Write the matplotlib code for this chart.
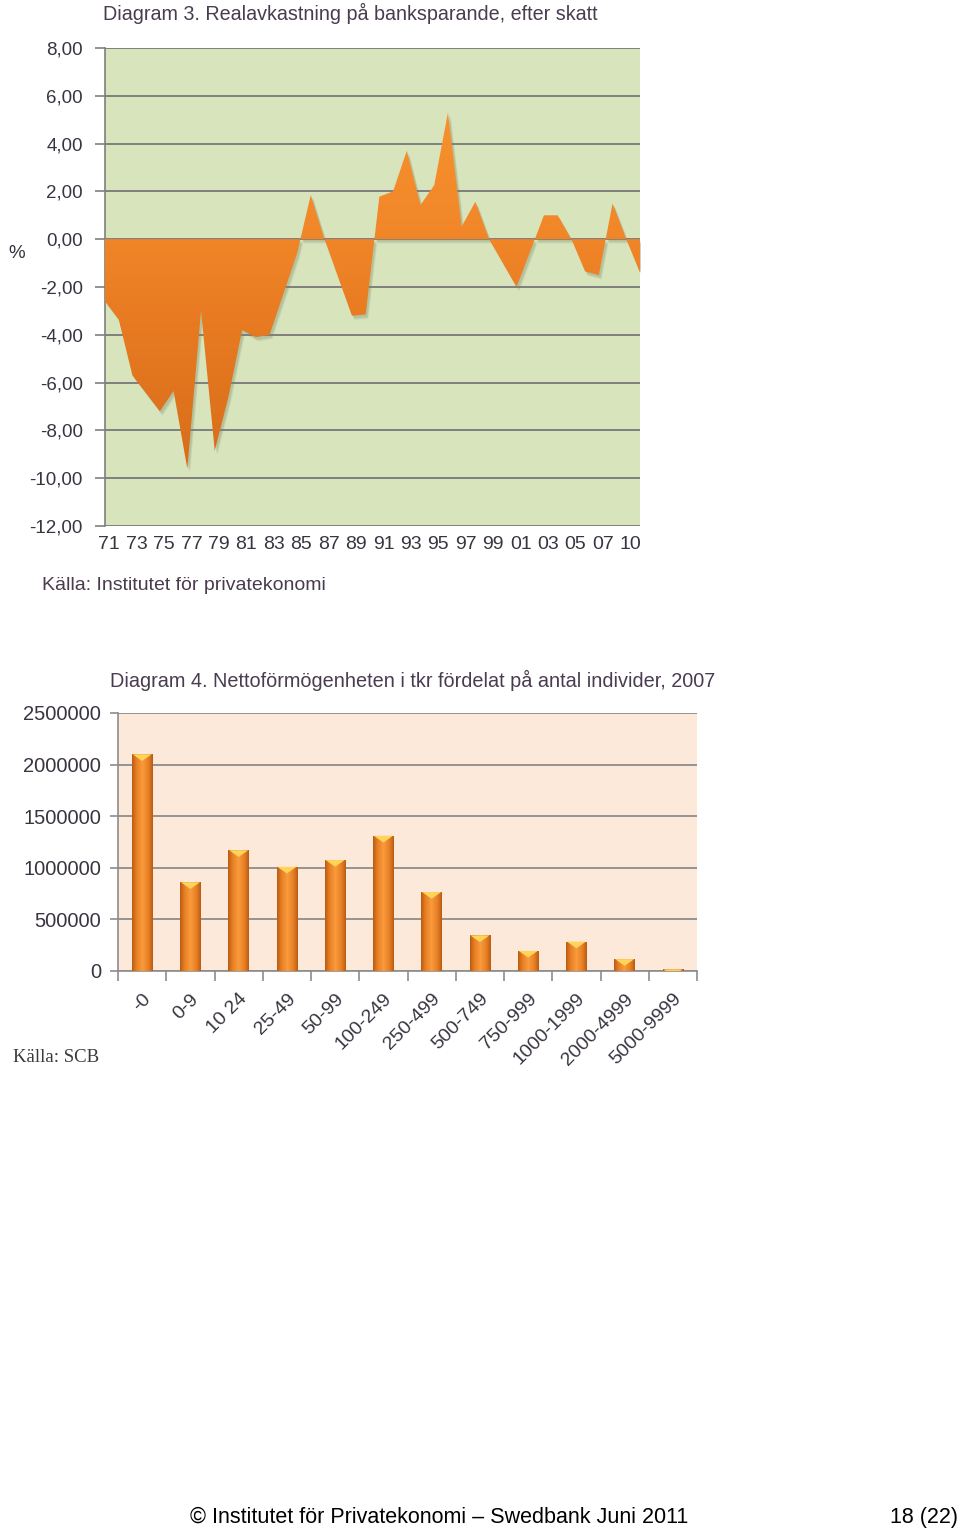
import numpy as np
import matplotlib
matplotlib.use("Agg")
import matplotlib.pyplot as plt
from matplotlib.colors import LinearSegmentedColormap
from matplotlib.path import Path
from matplotlib import transforms

# ---------------- data ----------------
years = list(range(1971, 2011))
real_return = [-2.6, -3.36, -5.7, -6.45, -7.2, -6.35, -9.6, -3.0, -8.85, -6.6,
               -3.8, -4.1, -4.0, -2.3, -0.6, 1.85, 0.0, -1.6, -3.2, -3.15,
               1.78, 2.0, 3.7, 1.43, 2.26, 5.3, 0.53, 1.57, 0.0, -1.0,
               -2.0, -0.5, 1.0, 1.0, 0.0, -1.35, -1.5, 1.5, 0.0, -1.4]
year_labels = ["71", "73", "75", "77", "79", "81", "83", "85", "87", "89",
               "91", "93", "95", "97", "99", "01", "03", "05", "07", "10"]
y1_ticks = [8, 6, 4, 2, 0, -2, -4, -6, -8, -10, -12]

wealth_classes = ["-0", "0-9", "10 24", "25-49", "50-99", "100-249", "250-499",
                  "500-749", "750-999", "1000-1999", "2000-4999", "5000-9999"]
individuals = [2100000, 860000, 1170000, 1010000, 1075000, 1310000, 765000,
               345000, 195000, 285000, 115000, 15000]
y2_ticks = [0, 500000, 1000000, 1500000, 2000000, 2500000]

# ---------------- figure ----------------
W, H = 960, 1532
fig = plt.figure(figsize=(W / 100, H / 100), dpi=100)
fig.patch.set_facecolor("white")

SANS = ["Liberation Sans", "DejaVu Sans"]
TXT = "#3a3440"

def fx(px):
    return px / W

def fy(py):
    return 1 - py / H

# ---------------- chart 1 ----------------
ax1 = fig.add_axes([fx(105), fy(526), fx(640) - fx(105), fy(48) - fy(526)])
ax1.set_facecolor("#d8e4bc")
x = np.arange(len(years))
vals = np.array(real_return)

# soft shadow
for k, a in [(4, 0.10), (3, 0.14), (2, 0.18)]:
    shadow_tr = transforms.offset_copy(ax1.transData, fig=fig, x=k * 0.6, y=-k, units="dots")
    ax1.fill_between(x, vals, 0, color="#7d8a6a", alpha=a, linewidth=0,
                     zorder=2, transform=shadow_tr)

poly = ax1.fill_between(x, vals, 0, color="none", linewidth=0, zorder=3)
cmap1 = LinearSegmentedColormap.from_list(
    "or1", [(0.0, "#d26818"), (0.45, "#e97c22"), (0.62, "#f18729"), (1.0, "#f99631")])
grad = np.linspace(0, 1, 256).reshape(-1, 1)
im = ax1.imshow(grad, extent=[x[0], x[-1], -12, 8], origin="lower", aspect="auto",
                cmap=cmap1, zorder=3, interpolation="bicubic")
im.set_clip_path(poly.get_paths()[0], transform=ax1.transData)

ax1.set_xlim(x[0], x[-1])
ax1.set_ylim(-12, 8)
ax1.set_yticks(y1_ticks)
ax1.set_yticklabels([f"{v:.2f}".replace(".", ",") for v in y1_ticks],
                    fontsize=13.5, color=TXT, family=SANS)
ax1.yaxis.grid(True, color="#7f7f7f", linewidth=1.4, zorder=1)
ax1.set_axisbelow(True)
ax1.set_xticks(x[::2] + 0.3)
ax1.set_xticklabels(year_labels, fontsize=14, color=TXT, family=SANS)
ax1.tick_params(axis="x", length=0, pad=7)
ax1.tick_params(axis="y", length=7, width=1.2, color="#7f7f7f", pad=9, direction="out")
for s in ["top", "right", "bottom"]:
    ax1.spines[s].set_visible(False)
ax1.spines["left"].set_color("#7f7f7f")
ax1.spines["left"].set_linewidth(1.2)

fig.text(fx(103), fy(13), "Diagram 3. Realavkastning på banksparande, efter skatt",
         fontsize=14.2, color="#4a3c50", family=SANS, va="center", ha="left")
fig.text(fx(8), fy(254), "%", fontsize=13.5, color=TXT, family=SANS, va="center")
fig.text(fx(42), fy(585), "Källa: Institutet för privatekonomi",
         fontsize=14, color="#4a3c50", family=SANS, va="center", ha="left")

# ---------------- chart 2 ----------------
ax2 = fig.add_axes([fx(118), fy(971), fx(697) - fx(118), fy(713) - fy(971)])
ax2.set_facecolor("#fde9d9")
xb = np.arange(len(wealth_classes))
bw = 0.42
bars = ax2.bar(xb, individuals, width=bw, color="#ee8424", edgecolor="none", zorder=3)

cmap2 = LinearSegmentedColormap.from_list(
    "cyl", [(0.0, "#b85a14"), (0.2, "#e67d22"), (0.5, "#fa9c3e"),
            (0.8, "#e67d22"), (1.0, "#b85a14")])
hgrad = np.linspace(0, 1, 128).reshape(1, -1)
for b in bars:
    x0, w, h = b.get_x(), b.get_width(), b.get_height()
    bim = ax2.imshow(hgrad, extent=[x0, x0 + w, 0, h], aspect="auto", cmap=cmap2,
                     zorder=4, interpolation="bicubic")
    bim.set_clip_path(b)

tri = Path([(-1, 0), (1, 0), (0, -0.7), (-1, 0)],
           [Path.MOVETO, Path.LINETO, Path.LINETO, Path.CLOSEPOLY])
ax2.scatter(xb, individuals, marker=tri, s=190, color="#ffd45a",
            edgecolors="none", zorder=5)

ax2.set_xlim(-0.5, len(wealth_classes) - 0.5)
ax2.set_ylim(0, 2500000)
ax2.set_yticks(y2_ticks)
ax2.set_yticklabels([str(v) for v in y2_ticks], fontsize=14.5, color=TXT, family=SANS)
ax2.yaxis.grid(True, color="#8c8c8c", linewidth=1.3, zorder=1)
ax2.set_axisbelow(True)
ax2.set_xticks(xb)
ax2.set_xticklabels(wealth_classes, rotation=45, ha="right", rotation_mode="anchor",
                    fontsize=14, color=TXT, family=SANS)
ax2.set_xticks(np.arange(-0.5, len(wealth_classes)), minor=True)
ax2.tick_params(axis="x", which="major", length=0, pad=14)
ax2.tick_params(axis="x", which="minor", length=7, width=1.2, color="#8c8c8c")
ax2.tick_params(axis="y", length=6, width=1.2, color="#8c8c8c", pad=6)
for s in ["top", "right"]:
    ax2.spines[s].set_visible(False)
for s in ["left", "bottom"]:
    ax2.spines[s].set_color("#8c8c8c")
    ax2.spines[s].set_linewidth(1.2)

fig.text(fx(110), fy(680), "Diagram 4. Nettoförmögenheten i tkr fördelat på antal individer, 2007",
         fontsize=14.3, color="#4a3c50", family=SANS, va="center", ha="left")
fig.text(fx(13), fy(1057), "Källa: SCB", fontsize=13.5, color="#3a3a3a",
         family=["Liberation Serif", "DejaVu Serif"], va="center", ha="left")

# ---------------- footer ----------------
fig.text(fx(190), fy(1517), "© Institutet för Privatekonomi – Swedbank Juni 2011",
         fontsize=15.5, color="black", family=SANS, va="center", ha="left")
fig.text(fx(958), fy(1517), "18 (22)", fontsize=15.5, color="black",
         family=SANS, va="center", ha="right")

fig.savefig("out.png", dpi=100, facecolor="white")
